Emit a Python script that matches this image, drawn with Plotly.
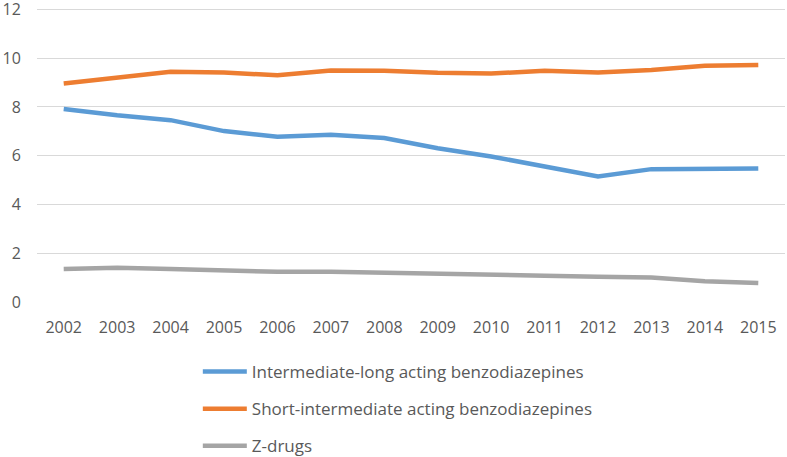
import plotly.graph_objects as go

years = ["2002", "2003", "2004", "2005", "2006", "2007", "2008", "2009", "2010", "2011", "2012", "2013", "2014", "2015"]
intermediate_long = [7.92, 7.66, 7.46, 7.01, 6.78, 6.86, 6.73, 6.31, 5.97, 5.55, 5.15, 5.45, 5.48, 5.48]
short_intermediate = [8.96, 9.19, 9.44, 9.41, 9.30, 9.50, 9.49, 9.40, 9.37, 9.49, 9.41, 9.52, 9.69, 9.72]
z_drugs = [1.35, 1.41, 1.35, 1.29, 1.24, 1.24, 1.19, 1.16, 1.12, 1.08, 1.04, 1.00, 0.85, 0.78]
y_ticks = [0, 2, 4, 6, 8, 10, 12]

series = [
    ("Intermediate-long acting benzodiazepines", intermediate_long, "#5B9BD5"),
    ("Short-intermediate acting benzodiazepines", short_intermediate, "#ED7D31"),
    ("Z-drugs", z_drugs, "#A5A5A5"),
]

fig = go.Figure()
for i, (name, vals, color) in enumerate(series):
    fig.add_trace(go.Scatter(
        x=years, y=vals, name=name, mode="lines",
        line=dict(color=color, width=4.5),
        legendgroup=f"g{i}",
    ))

fam = "Open Sans, Noto Sans, sans-serif"

fig.update_layout(
    width=787, height=457,
    margin=dict(l=37, r=2, t=8, b=155, autoexpand=False),
    paper_bgcolor="white", plot_bgcolor="white",
    font=dict(family=fam, size=16, color="#595959"),
    showlegend=True,
    legend=dict(
        orientation="v", x=0.215, xanchor="left",
        yref="container", y=1 - 354 / 457, yanchor="top",
        font=dict(family=fam, size=17, color="#595959"),
        tracegroupgap=12, itemwidth=44,
        bgcolor="rgba(0,0,0,0)",
    ),
    xaxis=dict(
        type="category", range=[-0.5, 13.5], showgrid=False, zeroline=False,
        showline=False, ticks="outside", ticklen=11, tickcolor="rgba(0,0,0,0)",
        tickfont=dict(family=fam, size=16, color="#595959"),
        ticklabeloverflow="allow",
    ),
    yaxis=dict(
        range=[0, 12.06], tickvals=y_ticks, showgrid=True, gridcolor="#D9D9D9", gridwidth=1,
        zeroline=False, showline=False, ticks="outside", ticklen=12, tickcolor="rgba(0,0,0,0)",
        tickfont=dict(family=fam, size=16, color="#595959"),
        ticklabeloverflow="allow",
    ),
)

fig.write_html(
    "out.html",
    config={"displayModeBar": False},
    post_script="document.body.style.margin='0';document.body.style.padding='0';",
)
